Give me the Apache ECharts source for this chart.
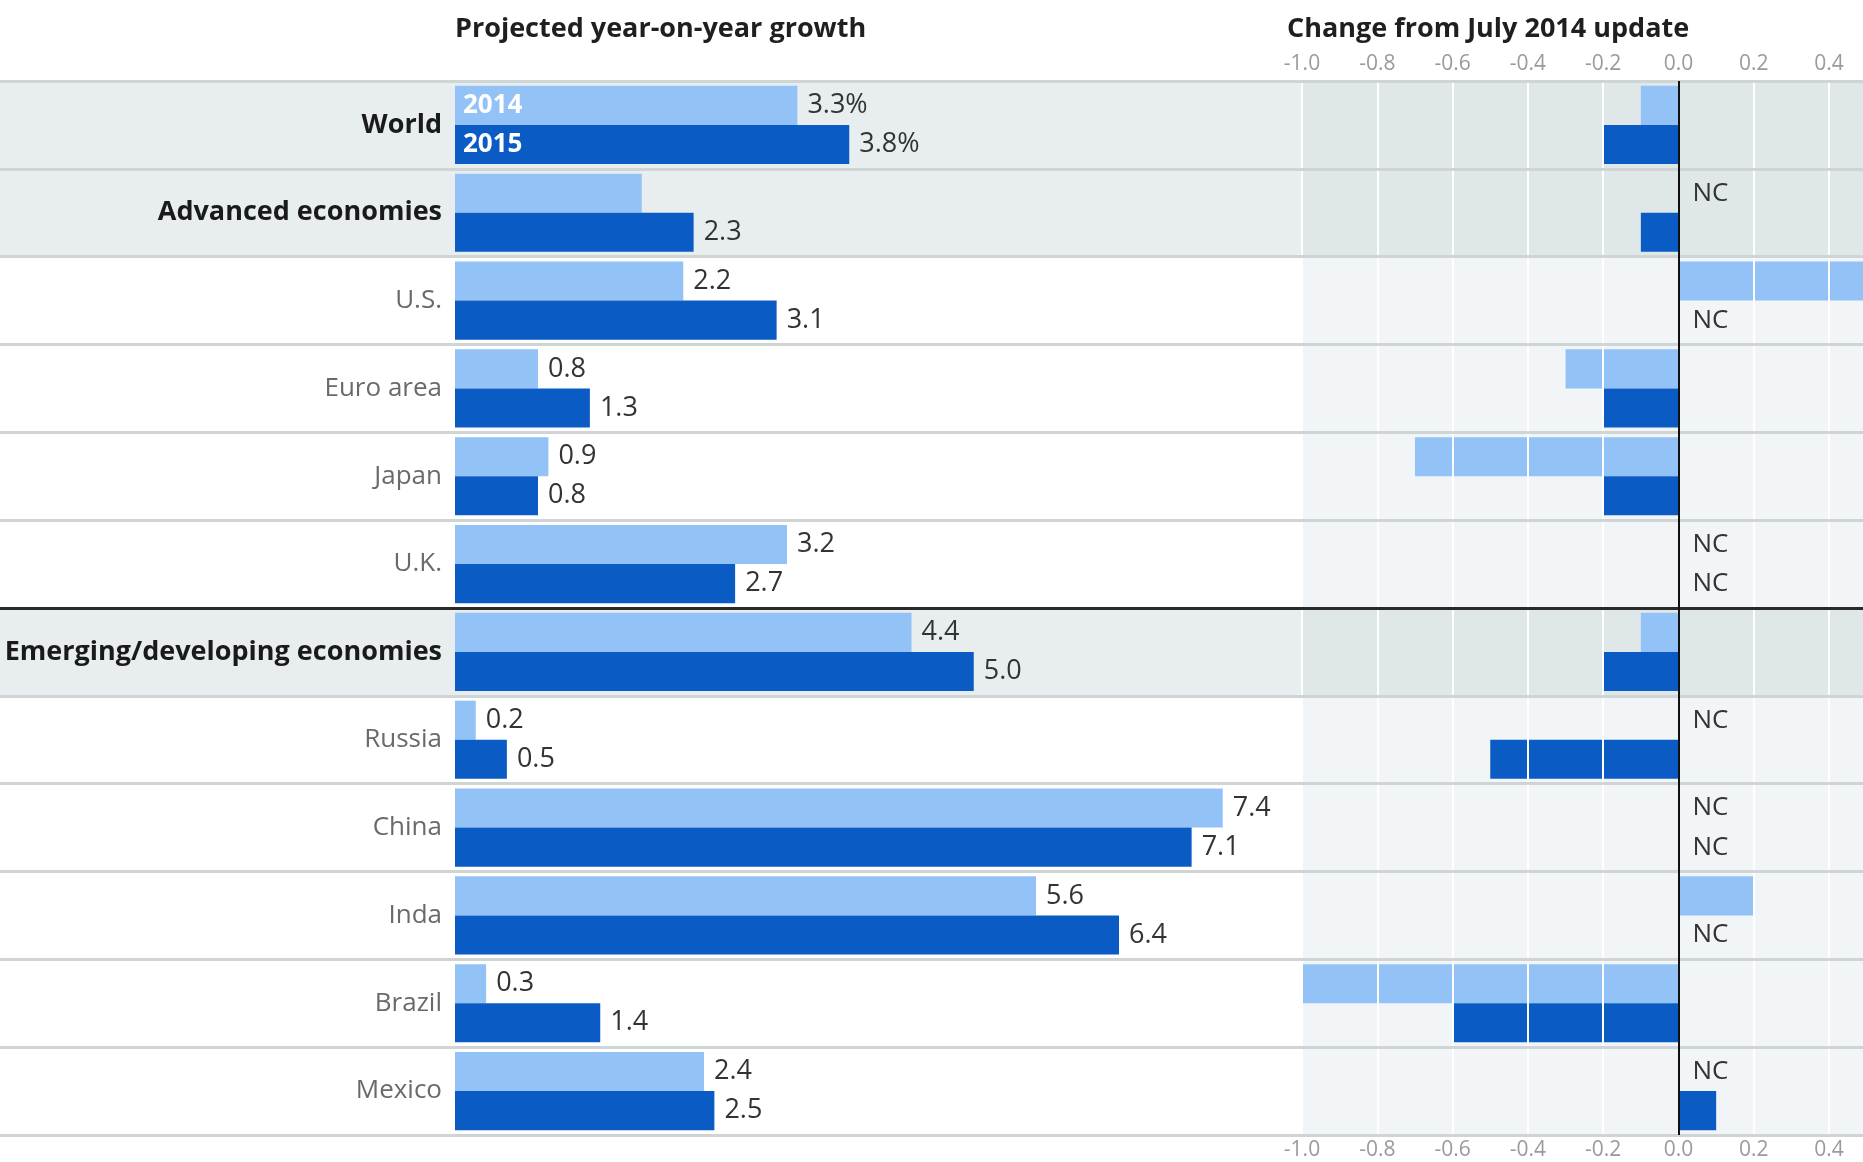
<!DOCTYPE html>
<html>
<head>
<meta charset="utf-8">
<title>IMF growth projections</title>
<script src="https://cdn.jsdelivr.net/npm/echarts@6/dist/echarts.min.js"></script>
<style>
html, body { margin: 0; padding: 0; background: #fff; }
#main { width: 1863px; height: 1162px; }
</style>
</head>
<body>
<div id="main"></div>
<script>
// rows, top to bottom
var countries = ['World', 'Advanced economies', 'U.S.', 'Euro area', 'Japan', 'U.K.',
  'Emerging/developing economies', 'Russia', 'China', 'Inda', 'Brazil', 'Mexico'];
var groupRows = ['World', 'Advanced economies', 'Emerging/developing economies'];
var years = ['2014', '2015'];

// projected year-on-year growth, %
var growth2014 = [3.3, 1.8, 2.2, 0.8, 0.9, 3.2, 4.4, 0.2, 7.4, 5.6, 0.3, 2.4];
var growth2015 = [3.8, 2.3, 3.1, 1.3, 0.8, 2.7, 5.0, 0.5, 7.1, 6.4, 1.4, 2.5];
// the reference shows no number on this bar
var unlabelled2014 = ['Advanced economies'];

// change from July 2014 update, null = no change (NC)
var change2014 = [-0.1, null, 0.5, -0.3, -0.7, null, -0.1, null, null, 0.2, -1.0, null];
var change2015 = [-0.2, -0.1, null, -0.2, -0.2, null, -0.2, -0.5, null, null, -0.6, 0.1];

var FONT = '"Open Sans"';
var LIGHT = '#92c2f6', DARK = '#0a5bc4';
var rowTop = 81, rowsHeight = 1054;
var breakRow = countries.indexOf('Emerging/developing economies');

var leftShade = countries.map(function (c) { return groupRows.indexOf(c) >= 0 ? '#e8eeef' : '#ffffff'; });
var rightShade = countries.map(function (c) { return groupRows.indexOf(c) >= 0 ? '#e0e7e9' : '#f1f5f7'; });
var sepColors = [];
for (var i = 0; i <= countries.length; i++) sepColors.push(i === breakRow ? '#2a2a2a' : '#cfd4d5');

function growthData(arr, hidden) {
  return arr.map(function (v, i) {
    if (hidden && hidden.indexOf(countries[i]) >= 0) return { value: v, label: { show: false } };
    return v;
  });
}
function tagData(arr) {
  return arr.map(function (v, i) {
    return i === 0 ? { value: v, label: { show: true } } : v;
  });
}
function changeData(arr) {
  return arr.map(function (v) {
    return v === null ? { value: 0, label: { show: true } } : v;
  });
}

var myChart = echarts.init(document.getElementById('main'));

var hiddenAxis = {
  axisLine: { show: false }, axisTick: { show: false },
  axisLabel: { show: false }, splitLine: { show: false }
};

var changeAxis = function (pos, withLines) {
  return {
    type: 'value', gridIndex: 2, position: pos,
    min: -1, max: 0.49, interval: 0.2, z: 3,
    axisLine: { show: false }, axisTick: { show: false },
    axisLabel: {
      color: '#9a9a9a', fontSize: 21, fontFamily: FONT,
      margin: pos === 'top' ? 6 : 5, showMaxLabel: false,
      formatter: function (v) { return Math.abs(v) < 1e-9 ? '0.0' : v.toFixed(1); }
    },
    splitLine: { show: withLines, showMaxLine: false, lineStyle: { color: '#ffffff', width: 2 } }
  };
};

var valueLabel = {
  show: true, position: 'right', distance: 10,
  fontSize: 27, fontFamily: FONT, color: '#333'
};

var option = {
  animation: false,
  backgroundColor: '#ffffff',
  title: [
    { text: 'Projected year-on-year growth', left: 455, top: 16, padding: 0,
      textStyle: { fontFamily: FONT, fontSize: 27, fontWeight: 'bold', color: '#1f1f1f' } },
    { text: 'Change from July 2014 update', left: 1287, top: 16, padding: 0,
      textStyle: { fontFamily: FONT, fontSize: 27, fontWeight: 'bold', color: '#1f1f1f' } }
  ],
  grid: [
    { left: 0, right: 0, top: rowTop, height: rowsHeight, outerBoundsMode: 'none' },
    { left: 455, width: 830, top: rowTop, height: rowsHeight, outerBoundsMode: 'none' },
    { left: 1302, right: 0, top: rowTop, height: rowsHeight, outerBoundsMode: 'none' }
  ],
  xAxis: [
    Object.assign({ type: 'value', gridIndex: 0, min: 0, max: 1 }, hiddenAxis),
    Object.assign({ type: 'value', gridIndex: 1, min: 0, max: 8 }, hiddenAxis),
    changeAxis('top', true),
    changeAxis('bottom', false)
  ],
  yAxis: [
    // row shading, full width
    Object.assign({ type: 'value', gridIndex: 0, min: 0, max: countries.length, interval: 1, inverse: true }, hiddenAxis,
      { splitArea: { show: true, areaStyle: { color: leftShade } } }),
    // row separators, drawn on top
    Object.assign({ type: 'value', gridIndex: 0, position: 'right', min: 0, max: countries.length, interval: 1, inverse: true, z: 4 }, hiddenAxis,
      { splitLine: { show: true, showMinLine: true, showMaxLine: true, lineStyle: { color: sepColors, width: 3 } } }),
    // country names
    {
      type: 'category', gridIndex: 1, data: countries, inverse: true,
      axisLine: { show: false }, axisTick: { show: false }, splitLine: { show: false },
      axisLabel: {
        interval: 0, margin: 13,
        formatter: function (v) { return groupRows.indexOf(v) >= 0 ? '{g|' + v + '}' : '{c|' + v + '}'; },
        rich: {
          g: { fontFamily: FONT, fontSize: 27, fontWeight: 'bold', color: '#1a1a1a' },
          c: { fontFamily: FONT, fontSize: 26, color: '#6a6a6a' }
        }
      }
    },
    // copy used for the year tags inside the World bars
    Object.assign({ type: 'category', gridIndex: 1, data: countries, inverse: true }, hiddenAxis),
    // right panel shading
    Object.assign({ type: 'category', gridIndex: 2, data: countries, inverse: true, z: 1 }, hiddenAxis,
      { splitArea: { show: true, interval: 0, areaStyle: { color: rightShade } } })
  ],
  series: [
    {
      name: years[0], type: 'bar', xAxisIndex: 1, yAxisIndex: 2,
      barGap: '0%', barCategoryGap: '11%',
      itemStyle: { color: LIGHT },
      label: Object.assign({}, valueLabel, {
        formatter: function (p) { return p.dataIndex === 0 ? p.value + '%' : p.value.toFixed(1); }
      }),
      data: growthData(growth2014, unlabelled2014)
    },
    {
      name: years[1], type: 'bar', xAxisIndex: 1, yAxisIndex: 2,
      barGap: '0%', barCategoryGap: '11%',
      itemStyle: { color: DARK },
      label: Object.assign({}, valueLabel, {
        formatter: function (p) { return p.dataIndex === 0 ? p.value + '%' : p.value.toFixed(1); }
      }),
      data: growthData(growth2015)
    },
    {
      name: years[0], type: 'bar', xAxisIndex: 1, yAxisIndex: 3, z: 3, silent: true,
      barGap: '0%', barCategoryGap: '11%',
      itemStyle: { color: 'rgba(0,0,0,0)' },
      label: { show: false, position: 'insideLeft', distance: 8, formatter: '{a}',
        fontFamily: FONT, fontSize: 26, fontWeight: 'bold', color: '#ffffff' },
      data: tagData(growth2014)
    },
    {
      name: years[1], type: 'bar', xAxisIndex: 1, yAxisIndex: 3, z: 3, silent: true,
      barGap: '0%', barCategoryGap: '11%',
      itemStyle: { color: 'rgba(0,0,0,0)' },
      label: { show: false, position: 'insideLeft', distance: 8, formatter: '{a}',
        fontFamily: FONT, fontSize: 26, fontWeight: 'bold', color: '#ffffff' },
      data: tagData(growth2015)
    },
    {
      name: 'change ' + years[0], type: 'bar', xAxisIndex: 2, yAxisIndex: 4,
      barGap: '0%', barCategoryGap: '11%',
      itemStyle: { color: LIGHT },
      label: { show: false, position: 'right', distance: 14, formatter: 'NC',
        fontFamily: FONT, fontSize: 26, color: '#333' },
      data: changeData(change2014),
      markLine: {
        silent: true, symbol: 'none', label: { show: false },
        lineStyle: { color: '#111', width: 2, type: 'solid' },
        data: [{ xAxis: 0 }]
      }
    },
    {
      name: 'change ' + years[1], type: 'bar', xAxisIndex: 2, yAxisIndex: 4,
      barGap: '0%', barCategoryGap: '11%',
      itemStyle: { color: DARK },
      label: { show: false, position: 'right', distance: 14, formatter: 'NC',
        fontFamily: FONT, fontSize: 26, color: '#333' },
      data: changeData(change2015)
    }
  ]
};

myChart.setOption(option);
</script>
</body>
</html>
